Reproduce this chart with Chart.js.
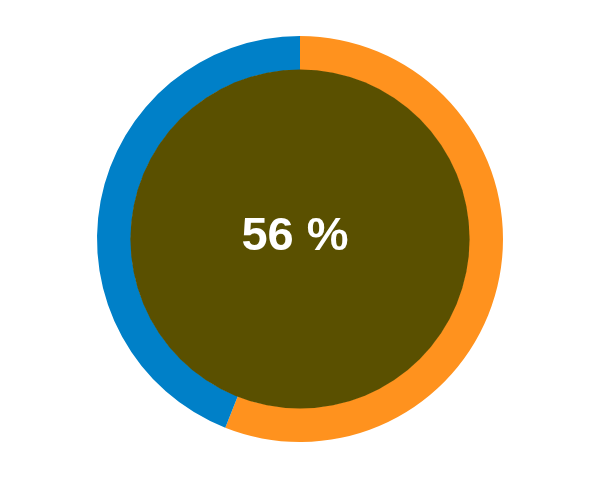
<!DOCTYPE html>
<html>
<head>
<meta charset="utf-8">
<script src="https://cdn.jsdelivr.net/npm/chart.js@4/dist/chart.umd.min.js"></script>
<style>
  html, body { margin: 0; padding: 0; background: #fff; }
  #wrap { width: 600px; height: 480px; }
</style>
</head>
<body>
<div id="wrap"><canvas id="gauge"></canvas></div>
<script>
const labels = ['Done', 'Remaining'];
const values = [56, 44];
const colors = ['#ff921e', '#0080c8'];
const centerText = '56 %';

// fills the hole and writes the percentage
const centerFill = {
  id: 'centerFill',
  afterDatasetsDraw(chart) {
    const arc = chart.getDatasetMeta(0).data[0];
    if (!arc) return;
    const { x, y, innerRadius } = arc;
    const ctx = chart.ctx;
    ctx.save();
    ctx.beginPath();
    ctx.arc(x, y, innerRadius + 0.5, 0, Math.PI * 2);
    ctx.fillStyle = '#5a5000';
    ctx.fill();
    ctx.fillStyle = '#ffffff';
    ctx.font = 'bold 47px "Liberation Sans"';
    ctx.textAlign = 'center';
    ctx.textBaseline = 'middle';
    ctx.fillText(centerText, x - 5, y - 2);
    ctx.restore();
  }
};

new Chart(document.getElementById('gauge'), {
  type: 'doughnut',
  data: {
    labels,
    datasets: [{
      data: values,
      backgroundColor: colors,
      borderWidth: 0
    }]
  },
  options: {
    responsive: true,
    maintainAspectRatio: false,
    animation: false,
    cutout: '83.3%',
    layout: { padding: { top: 36, bottom: 38 } },
    plugins: {
      legend: { display: false },
      tooltip: { enabled: false }
    }
  },
  plugins: [centerFill]
});
</script>
</body>
</html>
